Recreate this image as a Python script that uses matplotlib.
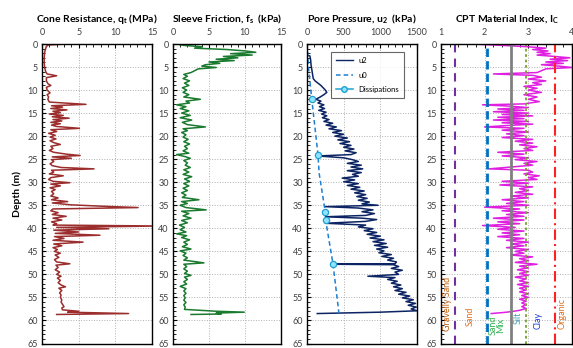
import numpy as np
import matplotlib
matplotlib.use("Agg")
import matplotlib.pyplot as plt
import matplotlib.ticker as ticker
from matplotlib.lines import Line2D

plt.rcParams['font.family'] = ['Lato', 'DejaVu Sans']
plt.rcParams['mathtext.fontset'] = 'custom'
plt.rcParams['mathtext.rm'] = 'Lato'
plt.rcParams['mathtext.bf'] = 'Lato:bold'

# ------------------------------------------------------------
# Data (depth m, value)
# ------------------------------------------------------------
qt_profile = [
    (0.0, 3.3), (0.2, 0.9), (0.5, 0.6), (1.0, 0.5), (1.5, 0.4), (2.0, 0.35), (3.0, 0.3),
    (4.0, 0.3), (5.0, 0.35), (6.0, 0.5), (6.5, 0.7), (6.9, 2.0), (7.3, 0.6), (8.0, 0.6),
    (8.6, 0.8), (9.0, 1.2), (9.4, 0.6), (10.0, 0.7), (10.6, 1.1), (11.0, 0.7), (11.5, 0.9),
    (12.0, 0.8), (12.6, 1.0), (13.1, 6.0), (13.4, 1.3), (13.7, 2.8), (14.0, 1.2), (14.3, 3.4),
    (14.6, 1.5), (14.9, 2.5), (15.2, 1.0), (15.5, 2.9), (15.8, 1.4), (16.1, 3.7), (16.4, 1.5),
    (16.7, 2.7), (17.0, 1.2), (17.3, 2.5), (17.6, 1.3), (17.9, 2.0), (18.3, 5.1), (18.6, 1.2),
    (19.0, 2.0), (19.4, 0.9), (19.8, 1.8), (20.2, 1.1), (20.6, 1.9), (21.0, 1.1), (21.4, 1.6),
    (21.8, 2.5), (22.2, 1.2), (22.7, 1.5), (23.1, 1.0), (23.5, 1.6), (23.9, 3.3), (24.2, 5.2),
    (24.5, 1.4), (24.8, 4.0), (25.1, 1.3), (25.5, 1.6), (26.0, 1.1), (26.4, 1.4), (26.8, 2.6),
    (27.1, 7.1), (27.4, 1.3), (27.8, 1.6), (28.2, 1.0), (28.6, 2.9), (29.0, 1.2), (29.4, 0.9),
    (29.8, 1.5), (30.1, 3.8), (30.4, 1.2), (30.8, 2.5), (31.2, 1.1), (31.6, 1.8), (32.0, 1.3),
    (32.5, 1.6), (33.0, 1.2), (33.4, 2.2), (33.8, 1.3), (34.2, 3.5), (34.5, 1.4), (34.9, 3.9),
    (35.2, 8.1), (35.5, 13.1), (35.8, 1.5), (36.2, 1.2), (36.6, 2.2), (37.0, 1.4), (37.4, 3.3),
    (37.8, 1.5), (38.2, 2.7), (38.6, 1.3), (39.0, 2.0), (39.3, 1.5), (39.5, 16.0), (39.8, 2.0),
    (40.1, 9.1), (40.4, 1.6), (40.8, 5.0), (41.1, 1.8), (41.5, 7.9), (41.8, 1.7), (42.2, 3.0),
    (42.6, 1.5), (43.0, 5.6), (43.4, 1.6), (43.8, 2.7), (44.2, 1.5), (44.6, 2.1), (45.0, 1.7),
    (45.4, 2.5), (45.8, 1.8), (46.3, 2.3), (46.8, 1.7), (47.3, 2.0), (47.7, 3.8), (48.0, 1.9),
    (48.5, 2.2), (49.0, 1.8), (49.5, 2.4), (50.0, 2.0), (50.4, 2.6), (50.8, 2.1), (51.3, 2.5),
    (51.8, 2.2), (52.3, 2.6), (52.7, 3.2), (53.0, 2.3), (53.5, 2.7), (54.0, 2.4), (54.5, 2.6),
    (55.0, 2.5), (55.5, 2.7), (56.0, 2.6), (56.5, 2.8), (57.0, 3.0), (57.3, 2.7), (57.7, 2.8),
    (58.0, 5.0), (58.2, 3.5), (58.5, 11.8), (58.7, 2.0),
]

fs_profile = [
    (0.0, 0.5), (0.3, 1.5), (0.6, 4.0), (0.9, 3.0), (1.2, 7.5), (1.5, 10.0), (1.8, 11.5),
    (2.1, 8.0), (2.4, 11.0), (2.7, 7.0), (3.0, 9.0), (3.3, 6.0), (3.6, 8.5), (3.9, 5.0),
    (4.2, 6.5), (4.5, 4.5), (4.8, 4.0), (5.1, 6.0), (5.4, 3.5), (5.8, 3.0), (6.2, 2.5),
    (6.6, 1.5), (7.0, 2.0), (7.5, 1.4), (8.0, 2.3), (8.5, 1.6), (9.0, 2.2), (9.5, 1.3),
    (10.0, 1.9), (10.5, 1.4), (11.0, 2.2), (11.5, 1.5), (12.0, 3.8), (12.4, 1.8), (12.8, 2.3),
    (13.2, 0.5), (13.6, 1.8), (14.0, 1.0), (14.5, 2.2), (15.0, 1.2), (15.5, 2.4), (16.0, 1.0),
    (16.5, 2.6), (17.0, 1.3), (17.5, 2.0), (18.0, 4.5), (18.4, 1.4), (18.8, 2.0), (19.2, 1.2),
    (19.7, 1.8), (20.2, 1.4), (20.7, 2.1), (21.2, 1.5), (21.7, 2.3), (22.2, 1.6), (22.7, 2.0),
    (23.2, 1.4), (23.7, 2.2), (24.0, 0.5), (24.4, 1.6), (24.8, 2.4), (25.3, 1.5), (25.8, 2.0),
    (26.3, 1.7), (26.8, 2.4), (27.3, 1.5), (27.8, 2.2), (28.3, 1.4), (28.8, 2.6), (29.3, 1.6),
    (29.8, 2.3), (30.3, 1.5), (30.8, 2.2), (31.3, 1.4), (31.8, 2.0), (32.3, 1.2), (32.8, 1.8),
    (33.3, 1.3), (33.8, 3.6), (34.2, 1.2), (34.6, 2.0), (35.0, 1.0), (35.5, 1.8), (36.0, 4.6),
    (36.3, 1.2), (36.8, 2.2), (37.3, 1.4), (37.8, 2.5), (38.3, 1.2), (38.8, 2.0), (39.3, 0.9),
    (39.8, 1.6), (40.3, 1.0), (40.8, 1.8), (41.2, 0.5), (41.6, 1.9), (42.0, 1.2), (42.5, 2.3),
    (43.0, 1.5), (43.5, 2.0), (44.0, 1.3), (44.5, 2.5), (44.9, 1.0), (45.4, 1.8), (45.9, 1.4),
    (46.4, 2.0), (46.9, 1.5), (47.5, 4.3), (47.8, 1.5), (48.3, 1.9), (48.8, 1.5), (49.3, 2.0),
    (49.8, 1.6), (50.2, 2.5), (50.6, 1.6), (51.1, 2.0), (51.6, 1.5), (52.1, 1.9), (52.6, 1.0),
    (53.1, 1.8), (53.6, 1.5), (54.1, 1.8), (54.6, 1.5), (55.1, 1.7), (55.6, 1.5), (56.1, 1.8),
    (56.6, 1.5), (57.1, 1.7), (57.6, 1.6), (58.0, 6.0), (58.2, 9.9), (58.4, 6.0), (58.6, 6.7),
    (58.7, 2.5),
]

u2_profile = [
    (0.0, 0), (2.4, 0), (2.6, 40), (3.5, 50), (4.5, 55), (5.5, 65), (6.5, 75), (7.5, 85),
    (8.0, 110), (8.5, 150), (9.0, 190), (9.5, 220), (10.0, 250), (10.5, 270), (11.0, 230),
    (11.5, 180), (12.0, 120), (12.4, 190), (12.8, 150), (13.2, 230), (13.6, 170), (14.0, 240),
    (14.4, 160), (14.8, 260), (15.2, 200), (15.6, 270), (16.0, 210), (16.4, 300), (16.8, 230),
    (17.2, 350), (17.6, 260), (18.0, 400), (18.4, 300), (18.8, 470), (19.2, 350), (19.6, 500),
    (20.0, 380), (20.4, 550), (20.8, 420), (21.2, 580), (21.6, 450), (22.0, 600), (22.4, 500),
    (22.8, 640), (23.2, 520), (23.6, 670), (24.0, 600), (24.3, 150), (24.7, 500), (25.1, 620),
    (25.5, 700), (25.9, 550), (26.3, 740), (26.7, 600), (27.1, 760), (27.5, 550), (27.9, 740),
    (28.3, 620), (28.7, 700), (29.1, 480), (29.5, 650), (29.9, 500), (30.3, 700), (30.7, 550),
    (31.1, 720), (31.5, 600), (31.9, 780), (32.3, 650), (32.7, 800), (33.1, 680), (33.5, 820),
    (33.9, 700), (34.3, 850), (34.7, 750), (35.0, 970), (35.3, 250), (35.6, 700), (36.0, 900),
    (36.4, 750), (36.8, 920), (37.2, 800), (37.5, 250), (37.8, 750), (38.1, 950), (38.5, 800),
    (38.9, 250), (39.3, 800), (39.7, 700), (40.1, 900), (40.5, 780), (40.9, 950), (41.3, 820),
    (41.7, 1000), (42.1, 860), (42.5, 1050), (42.9, 900), (43.3, 1080), (43.7, 920), (44.1, 1100),
    (44.5, 950), (44.9, 1050), (45.3, 980), (45.7, 1150), (46.1, 1020), (46.5, 1180), (46.9, 1100),
    (47.3, 1220), (47.7, 1200), (47.8, 355), (47.9, 1180), (48.3, 1250), (48.7, 1150), (49.1, 1300),
    (49.5, 1200), (50.0, 1250), (50.4, 830), (50.7, 1200), (51.1, 1100), (51.5, 1230), (51.9, 1150),
    (52.3, 1280), (52.7, 1180), (53.1, 1300), (53.5, 1200), (53.9, 1350), (54.3, 1250), (54.7, 1400),
    (55.1, 1300), (55.5, 1450), (55.9, 1350), (56.3, 1480), (56.7, 1380), (57.1, 1490), (57.5, 1420),
    (57.9, 1500), (58.2, 1000), (58.5, 140),
]

u0_depth = [0, 5, 12, 24, 28, 36.5, 38.3, 47.8, 58.5]
u0_value = [0, 20, 65, 150, 165, 250, 255, 355, 436]

diss_depth = [12.0, 24.0, 36.5, 38.3, 47.8]
diss_value = [65, 150, 250, 255, 355]

ic_profile = [
    (0.0, 1.7), (0.3, 2.4), (0.6, 3.0), (0.9, 3.4), (1.2, 3.1), (1.5, 3.45), (1.8, 3.2),
    (2.1, 3.5), (2.4, 3.2), (2.7, 3.6), (3.0, 3.95), (3.3, 3.5), (3.6, 3.9), (3.9, 3.4),
    (4.2, 3.8), (4.5, 3.3), (4.8, 3.7), (5.1, 4.0), (5.4, 3.4), (5.8, 3.3), (6.2, 3.2),
    (6.5, 2.2), (6.8, 3.1), (7.2, 3.3), (7.6, 3.0), (8.0, 3.4), (8.4, 3.1), (8.8, 3.3),
    (9.2, 2.9), (9.6, 3.2), (10.0, 3.0), (10.5, 3.3), (11.0, 2.9), (11.5, 3.2), (12.0, 3.0),
    (12.5, 3.25), (13.0, 2.9), (13.2, 1.95), (13.5, 2.6), (13.8, 3.0), (14.1, 2.3), (14.4, 2.9),
    (14.7, 2.2), (15.0, 3.0), (15.3, 2.4), (15.6, 3.1), (15.9, 2.3), (16.2, 2.9), (16.5, 2.2),
    (16.8, 3.0), (17.1, 2.4), (17.4, 3.1), (17.7, 2.5), (18.0, 2.0), (18.3, 2.9), (18.7, 2.4),
    (19.1, 3.0), (19.5, 2.5), (19.9, 2.9), (20.3, 2.4), (20.7, 3.1), (21.1, 2.7), (21.5, 3.1),
    (21.9, 2.8), (22.3, 3.2), (22.7, 2.9), (23.1, 3.1), (23.5, 2.3), (23.9, 2.9), (24.3, 2.4),
    (24.7, 3.0), (25.1, 2.7), (25.5, 3.2), (25.9, 2.9), (26.3, 3.1), (26.7, 2.6), (27.1, 2.1),
    (27.4, 3.0), (27.8, 3.1), (28.2, 2.9), (28.6, 3.25), (29.0, 3.0), (29.4, 3.2), (29.8, 2.4),
    (30.2, 3.0), (30.6, 2.35), (31.0, 3.1), (31.4, 2.8), (31.8, 3.0), (32.2, 2.7), (32.6, 3.1),
    (33.0, 2.6), (33.4, 3.0), (33.8, 2.4), (34.2, 2.9), (34.6, 2.5), (35.0, 3.0), (35.4, 2.0),
    (35.8, 2.8), (36.2, 2.4), (36.6, 3.0), (37.0, 2.5), (37.4, 2.9), (37.8, 2.2), (38.2, 2.9),
    (38.6, 2.3), (39.0, 2.8), (39.4, 1.95), (39.8, 2.7), (40.2, 2.3), (40.6, 2.9), (41.0, 2.4),
    (41.4, 2.8), (41.8, 2.3), (42.2, 2.9), (42.6, 2.5), (43.0, 3.0), (43.4, 2.6), (43.8, 2.9),
    (44.2, 2.5), (44.6, 3.0), (45.0, 2.7), (45.4, 2.9), (45.8, 2.6), (46.2, 3.1), (46.6, 2.8),
    (47.0, 3.0), (47.4, 2.7), (47.8, 3.2), (48.2, 2.8), (48.6, 3.0), (49.0, 2.75), (49.4, 3.0),
    (49.8, 2.8), (50.2, 3.0), (50.6, 2.7), (51.0, 2.95), (51.4, 2.8), (51.8, 3.0), (52.2, 2.75),
    (52.6, 3.0), (53.0, 2.8), (53.4, 2.95), (53.8, 2.8), (54.2, 3.0), (54.6, 2.85), (55.0, 3.0),
    (55.4, 2.8), (55.8, 2.95), (56.2, 2.85), (56.6, 2.95), (57.0, 2.85), (57.4, 2.95), (57.8, 2.8),
    (58.1, 2.6), (58.3, 2.4), (58.5, 2.15),
]

# Ic soil behaviour boundaries and zone labels
ic_bounds = [1.31, 2.05, 2.6, 2.95, 3.6]
zone_names = ['Gravelly Sand', 'Sand', 'Sand\nMix', 'Silt', 'Clay', 'Organic']
zone_x = [1.16, 1.67, 2.28, 2.77, 3.22, 3.77]
zone_depth = [56.5, 59.0, 61.0, 59.5, 60.0, 58.5]

# ------------------------------------------------------------
BOUND_STYLES = [
    {'color': '#7030a0', 'ls': (0, (4, 3)), 'lw': 1.5},
    {'color': '#0070c0', 'ls': (0, (3, 1.5)), 'lw': 2.0},
    {'color': '#808080', 'ls': '-', 'lw': 2.0},
    {'color': '#77a030', 'ls': (0, (1.5, 1.5)), 'lw': 1.3},
    {'color': '#ff2020', 'ls': (0, (5, 2, 1, 2)), 'lw': 1.5},
]
ZONE_COLORS = ['#c06010', '#e07020', '#30b050', '#40a0b0', '#2040d0', '#e07020']


def _setup_axes(ax, xlim, xmajor, xminor, title):
    ax.set_xlim(xlim)
    ax.set_ylim(65, 0)
    ax.xaxis.set_ticks_position('top')
    ax.xaxis.set_label_position('top')
    ax.xaxis.set_major_locator(ticker.MultipleLocator(xmajor))
    ax.xaxis.set_minor_locator(ticker.MultipleLocator(xminor))
    ax.yaxis.set_major_locator(ticker.MultipleLocator(5))
    ax.yaxis.set_minor_locator(ticker.MultipleLocator(1))
    ax.tick_params(which='both', direction='in', labelsize=6.5, pad=3,
                   colors='black', labelcolor='#404040')
    ax.tick_params(axis='x', pad=5)
    ax.tick_params(which='major', length=3)
    ax.tick_params(which='minor', length=2)
    ax.grid(True, which='major', linestyle=':', linewidth=0.7, color='#b0b0b0')
    for sp in ax.spines.values():
        sp.set_linewidth(1.0)
    ax.set_title(title, fontsize=7.5, fontweight='bold', pad=16)


fig = plt.figure(figsize=(5.73, 3.48), dpi=100)
W, H = 573.0, 348.0
y0, y1 = 1 - 343.5 / H, 1 - 44 / H
ax1 = fig.add_axes([42 / W, y0, 110 / W, y1 - y0])
ax2 = fig.add_axes([173 / W, y0, 108 / W, y1 - y0])
ax3 = fig.add_axes([307 / W, y0, 110 / W, y1 - y0])
ax4 = fig.add_axes([441 / W, y0, 131 / W, y1 - y0])

d, v = zip(*qt_profile)
ax1.plot(v, d, color='#9b2d2d', lw=1.1)
_setup_axes(ax1, (0, 15), 5, 1, r'Cone Resistance, q$_\mathregular{t}$ (MPa)')
ax1.set_ylabel('Depth (m)', fontsize=7.5, fontweight='bold', labelpad=4)

d, v = zip(*fs_profile)
ax2.plot(v, d, color='#1a7a2e', lw=1.1)
_setup_axes(ax2, (0, 15), 5, 1, r'Sleeve Friction, f$_\mathregular{s}$  (kPa)')

d, v = zip(*u2_profile)
ax3.plot(v, d, color='#0c2463', lw=1.1, label='u2')
ax3.plot(u0_value, u0_depth, color='#1f7fd0', lw=1.1, ls=(0, (3, 2)), label='u0')
ax3.plot(diss_value, diss_depth, ls='none', marker='o', ms=4.5,
         mfc='#8fe3ff', mec='#20a0d0', mew=0.9)
_setup_axes(ax3, (0, 1500), 500, 100, r'Pore Pressure, u$_\mathregular{2}$  (kPa)')
handles = [Line2D([], [], color='#0c2463', lw=1.0),
           Line2D([], [], color='#1f7fd0', lw=1.1, ls=(0, (3, 2))),
           Line2D([], [], color='#20a0d0', lw=1.1, marker='o', ms=4,
                  mfc='#8fe3ff', mec='#20a0d0')]
leg = ax3.legend(handles, ['u2', 'u0', 'Dissipations'], loc='upper right',
                 bbox_to_anchor=(0.915, 0.985), fontsize=5.5, frameon=True,
                 fancybox=False, edgecolor='#404040', handlelength=2.2,
                 borderpad=0.6, labelspacing=1.0)
leg.get_frame().set_linewidth(0.8)

d, v = zip(*ic_profile)
ax4.plot(v, d, color='#e020e0', lw=1.1)
for xb, st in zip(ic_bounds, BOUND_STYLES):
    ax4.axvline(xb, color=st['color'], ls=st['ls'], lw=st['lw'])
for name, zx, zd, zc in zip(zone_names, zone_x, zone_depth, ZONE_COLORS):
    ax4.text(zx, zd, name, rotation=90, ha='center', va='center',
             fontsize=6.5, color=zc, linespacing=0.9)
_setup_axes(ax4, (1, 4), 1, 0.2, r'CPT Material Index, I$_\mathregular{C}$')

fig.savefig('out.png', dpi=100)
